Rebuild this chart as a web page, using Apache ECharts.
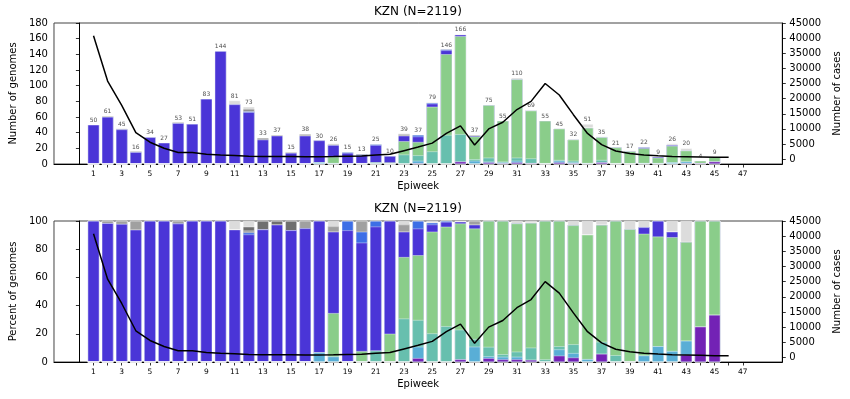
<!DOCTYPE html>
<html><head><meta charset="utf-8">
<script src="https://cdn.jsdelivr.net/npm/echarts@6/dist/echarts.min.js"></script>
<style>html,body{margin:0;padding:0;background:#fff}#c{width:850px;height:399px}</style>
</head><body><div id="c"></div>
<script>
// Epiweeks with genome bars
const weeks = [1,2,3,4,5,6,7,8,9,10,11,12,13,14,15,16,17,18,19,20,21,22,23,24,25,26,27,28,29,30,31,32,33,34,35,36,37,38,39,40,41,42,43,44,45];
// Epiweeks with case counts
const caseWeeks = [1,2,3,4,5,6,7,8,9,10,11,12,13,14,15,16,17,18,19,20,21,22,23,24,25,26,27,28,29,30,31,32,33,34,35,36,37,38,39,40,41,42,43,44,45,46];
const cases = [40800,25800,17800,8800,5600,3600,2200,2200,1650,1400,1200,1000,900,850,850,800,800,850,950,1050,1400,1600,2800,4000,5300,8500,11000,4700,10000,12200,16400,19100,25000,21200,14700,8500,4800,2700,1900,1400,1100,900,800,700,600,600];

// Genome counts per lineage group (stacked bottom -> top)
const purple     = [0,0,0,0,0, 0,0,0,0,0, 0,0,0,0,0, 0,0,0,0,0, 0,0,0,1,0, 0,3,0,2,1, 2,1,0,2,1, 0,2,0,0,0, 0,0,1,1,3];
const skyblue    = [0,0,0,0,0, 0,0,0,0,0, 0,0,0,0,0, 0,2,1,0,0, 0,0,0,3,0, 0,0,4,1,1, 2,0,0,2,1, 1,0,0,0,1, 1,2,2,0,0];
const teal       = [0,0,0,0,0, 0,0,0,0,0, 0,0,0,0,0, 0,0,0,0,0, 2,0,12,7,16, 37,35,2,5,1, 4,6,1,1,2, 0,3,1,0,0, 0,0,0,0,0];
const green      = [0,0,0,0,0, 0,0,0,0,0, 0,0,0,0,0, 0,0,8,0,1, 0,2,17,17,57, 103,125,29,67,52, 100,61,54,40,27, 45,29,20,16,19, 7,21,14,3,6];
const blue       = [50,60,44,15,34, 27,52,51,83,144, 76,66,31,36,14, 36,28,15,14,10, 22,8,7,7,4, 5,2,1,0,0, 0,0,0,0,0, 0,0,0,0,1, 1,1,0,0,0];
const brightblue = [0,0,0,0,0, 0,0,0,0,0, 0,1,0,0,0, 0,0,0,1,1, 1,0,0,2,1, 1,0,0,0,0, 0,0,0,0,0, 0,0,0,0,0, 0,0,0,0,0];
const midgray    = [0,1,1,1,0, 0,1,0,0,0, 0,1,0,0,0, 2,0,1,0,1, 0,0,2,0,0, 0,0,1,0,0, 0,0,0,0,0, 0,0,0,0,0, 0,0,0,0,0];
const darkgray   = [0,0,0,0,0, 0,0,0,0,0, 0,2,2,1,1, 0,0,0,0,0, 0,0,0,0,0, 0,0,0,0,0, 0,0,0,0,0, 0,0,0,0,0, 0,0,0,0,0];
const lightgray  = [0,0,0,0,0, 0,0,0,0,0, 5,3,0,0,0, 0,0,1,0,0, 0,0,1,0,1, 0,1,0,0,0, 2,1,0,0,1, 5,1,0,1,1, 0,2,3,0,0];

const tickWeeks = [1,2,3,4,5,6,7,8,9,10,11,12,13,14,15,16,17,18,19,20,21,22,23,24,25,26,27,28,29,30,31,32,33,34,35,36,37,38,39,40,41,42,43,44,45,46,47];
const labelWeeks = [1,3,5,7,9,11,13,15,17,19,21,23,25,27,29,31,33,35,37,39,41,43,45,47];
const caseTicks = [0,5000,10000,15000,20000,25000,30000,35000,40000,45000];

const groups = [
  {name:'purple', data:purple, color:'#7322b5'},
  {name:'skyblue', data:skyblue, color:'#59aed6'},
  {name:'teal', data:teal, color:'#67bfae'},
  {name:'green', data:green, color:'#8acd8a'},
  {name:'blue', data:blue, color:'#4a35d7'},
  {name:'brightblue', data:brightblue, color:'#3d6ee6'},
  {name:'midgray', data:midgray, color:'#a0a0a0'},
  {name:'darkgray', data:darkgray, color:'#6f6f6f'},
  {name:'lightgray', data:lightgray, color:'#dcdcdc'}
];
const totals = weeks.map((w,i)=>groups.reduce((s,g)=>s+g.data[i],0));
// cumulative tops (stack built here; bars are overlapped, drawn top group first)
const cum = [];
groups.forEach((g,k)=>{ cum.push(weeks.map((w,i)=>(k?cum[k-1][i]:0)+g.data[i])); });

const FONT = 'DejaVu Sans';
const chart = echarts.init(document.getElementById('c'), null, {renderer:'canvas'});

function xAx(gi){
  return {type:'value', gridIndex:gi, min:-1.8, max:49.8,
    name:'Epiweek', nameLocation:'middle', nameGap:17,
    nameTextStyle:{fontFamily:FONT, fontSize:10, color:'#000'},
    axisLine:{show:true, onZero:false, lineStyle:{color:'#000', width:1}},
    axisTick:{show:true, customValues:tickWeeks, length:3.5, lineStyle:{color:'#000', width:0.8}},
    axisLabel:{customValues:labelWeeks, fontFamily:FONT, fontSize:7.5, color:'#000', margin:6},
    splitLine:{show:false}};
}
function yLeft(gi, max, name){
  return {type:'value', gridIndex:gi, min:0, max:max, interval:20, position:'left',
    name:name, nameLocation:'middle', nameGap:29,
    nameTextStyle:{fontFamily:FONT, fontSize:10, color:'#000'},
    axisLine:{show:true, lineStyle:{color:'#000', width:1}},
    axisTick:{show:true, length:3.5, lineStyle:{color:'#000', width:0.8}},
    axisLabel:{fontFamily:FONT, fontSize:10, color:'#000', margin:6},
    splitLine:{show:false}};
}
function yRight(gi, min){
  return {type:'value', gridIndex:gi, min:min, max:45000, position:'right',
    name:'Number of cases', nameLocation:'middle', nameGap:42,
    nameTextStyle:{fontFamily:FONT, fontSize:10, color:'#000'},
    axisLine:{show:true, lineStyle:{color:'#000', width:1}},
    axisTick:{show:true, customValues:caseTicks, length:3.5, lineStyle:{color:'#000', width:0.8}},
    axisLabel:{customValues:caseTicks, formatter:v=>String(Math.round(v)), fontFamily:FONT, fontSize:10, color:'#000', margin:7},
    splitLine:{show:false}};
}

const series = [];
for (let k = groups.length-1; k >= 0; k--) {
  const g = groups[k];
  series.push({type:'bar', name:g.name, xAxisIndex:0, yAxisIndex:0, barWidth:11.5, barGap:'-100%',
    itemStyle:{color:g.color, borderColor:'#fff', borderWidth:0.4},
    data:weeks.map((w,i)=>[w, cum[k][i]])});
}
for (let k = groups.length-1; k >= 0; k--) {
  const g = groups[k];
  series.push({type:'bar', name:g.name+'_pct', xAxisIndex:1, yAxisIndex:2, barWidth:11.5, barGap:'-100%',
    itemStyle:{color:g.color, borderColor:'#fff', borderWidth:0.4},
    data:weeks.map((w,i)=>[w, cum[k][i]/totals[i]*100])});
}
series.push({type:'line', xAxisIndex:0, yAxisIndex:1, showSymbol:false, z:10,
  lineStyle:{color:'#000', width:1.5}, data:caseWeeks.map((w,i)=>[w, cases[i]])});
series.push({type:'line', xAxisIndex:1, yAxisIndex:3, showSymbol:false, z:10,
  lineStyle:{color:'#000', width:1.5}, data:caseWeeks.map((w,i)=>[w, cases[i]])});
series.push({type:'scatter', xAxisIndex:0, yAxisIndex:0, symbolSize:1, itemStyle:{color:'rgba(0,0,0,0)'}, z:12,
  label:{show:true, position:'top', distance:1, fontFamily:FONT, fontSize:6, color:'#222',
    formatter:p=>String(p.value[1])},
  data:weeks.map((w,i)=>[w, totals[i]])});

chart.setOption({
  animation:false,
  backgroundColor:'#fff',
  title:[
    {text:'KZN (N=2119)', left:374, top:6, padding:0, textStyle:{fontFamily:FONT, fontSize:12, fontWeight:'normal', color:'#000'}},
    {text:'KZN (N=2119)', left:374, top:203, padding:0, textStyle:{fontFamily:FONT, fontSize:12, fontWeight:'normal', color:'#000'}}
  ],
  grid:[
    {left:47, right:61, top:23, height:141, show:true, borderColor:'#444', borderWidth:1, backgroundColor:'transparent'},
    {left:47, right:61, top:221, height:141, show:true, borderColor:'#444', borderWidth:1, backgroundColor:'transparent'}
  ],
  xAxis:[xAx(0), xAx(1)],
  yAxis:[yLeft(0,180,'Number of genomes'), yRight(0,-1600), yLeft(1,100,'Percent of genomes'), yRight(1,-1500)],
  series:series
});
</script></body></html>
